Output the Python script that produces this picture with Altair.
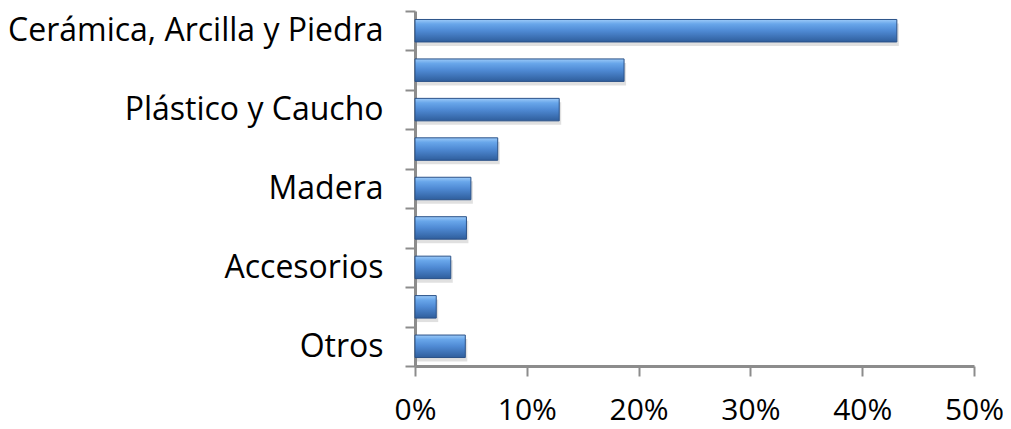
import altair as alt
import pandas as pd

categories = ["Cerámica, Arcilla y Piedra", "Metal", "Plástico y Caucho", "Vidrio",
              "Madera", "Textil", "Accesorios", "Papel", "Otros"]
shares = [0.431, 0.187, 0.129, 0.074, 0.050, 0.046, 0.032, 0.019, 0.045]
shown_labels = ["Cerámica, Arcilla y Piedra", "Plástico y Caucho", "Madera", "Accesorios", "Otros"]
x_ticks = [0, 0.1, 0.2, 0.3, 0.4, 0.5]

df = pd.DataFrame({"categoria": categories, "share": shares})

FONT = "Open Sans"
GRAY = "#8c8c8c"

label_expr = ("datum.value == 'Otros' ? 'Otros\u00a0' : (indexof(" + str(shown_labels) +
              ", datum.value) >= 0 ? datum.value : '')")

y_scale = alt.Scale(paddingInner=0, paddingOuter=0)
x_scale = alt.Scale(domain=[0, 0.5], nice=False)

x_axis = alt.Axis(title=None, values=x_ticks, format=".0%", grid=False,
                  domainColor=GRAY, domainWidth=3, tickColor=GRAY, tickWidth=2,
                  tickSize=10, labelFont=FONT, labelFontSize=30, labelColor="#000000",
                  labelPadding=19, labelFlush=False)
y_axis = alt.Axis(title=None, tickBand="extent", labelExpr=label_expr,
                  domainColor=GRAY, domainWidth=3, tickColor=GRAY, tickWidth=2,
                  tickSize=10, labelFont=FONT, labelFontSize=32, labelColor="#000000",
                  labelPadding=22, labelLimit=600)

grad = alt.Gradient(
    gradient="linear", x1=0, x2=0, y1=0, y2=1,
    stops=[
        alt.GradientStop(color="#9ccaf8", offset=0),
        alt.GradientStop(color="#68a6ea", offset=0.2),
        alt.GradientStop(color="#4f8ad4", offset=0.5),
        alt.GradientStop(color="#2f5e9c", offset=1),
    ],
)

x_enc = alt.X("share:Q", scale=x_scale, axis=x_axis)
y_enc = alt.Y("categoria:N", sort=categories, scale=y_scale, axis=y_axis)

BAR_H = alt.RelativeBandSize(0.57)

shadow = alt.Chart(df).mark_bar(color="#000000", opacity=0.12, height=BAR_H,
                                yOffset=4, xOffset=2, x2Offset=2).encode(
    x=x_enc, y=y_enc,
)

bars = alt.Chart(df).mark_bar(color=grad, stroke="#2b5288", strokeWidth=1, height=BAR_H).encode(
    x=x_enc, y=y_enc,
    tooltip=["categoria:N", alt.Tooltip("share:Q", format=".1%")],
)

chart = (shadow + bars).properties(
    width=559, height=355,
    background="white",
    autosize=alt.AutoSizeParams(type="none"),
    padding={"left": 407, "top": 3, "right": 29, "bottom": 62},
).configure_view(stroke=None)

chart.save("out.html", embed_options={"renderer": "svg", "actions": False})
